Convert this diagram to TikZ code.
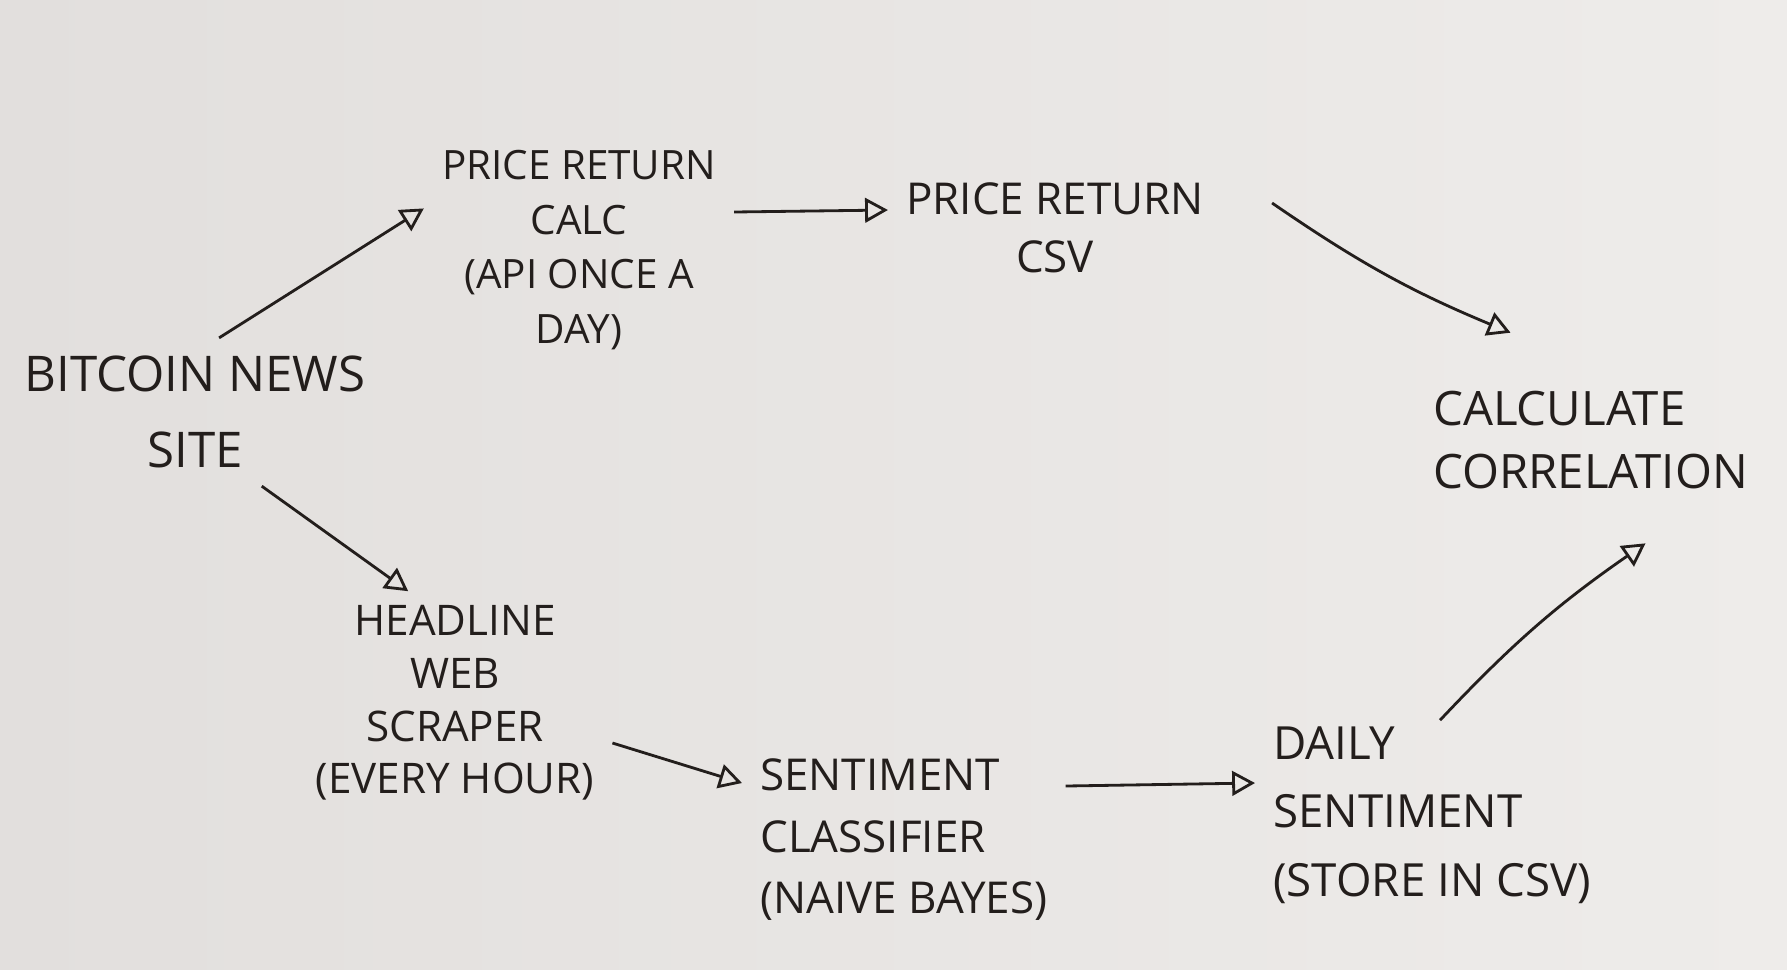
\documentclass[tikz,border=0pt]{standalone}
\usepackage{fontspec}
\setmainfont{Open Sans}
\usepackage{xcolor}
\usetikzlibrary{arrows.meta, positioning, calc}
\definecolor{Paper}{RGB}{226, 223, 221}
\definecolor{PaperLight}{RGB}{238, 236, 234}
\definecolor{Ink}{RGB}{35, 30, 28}

\tikzset{
  sketch/.style={text=Ink, inner sep=5pt, font=\fontsize{11.5}{16}\selectfont},
  flow/.style={draw=Ink, line width=0.8pt, -{Triangle[open, length=6.5pt, width=7pt]}}
}

\begin{document}
\begin{tikzpicture}
            % paper
            \shade[left color=Paper, right color=PaperLight] (0,0) rectangle (17.87,-9.69);
            \useasboundingbox (0,0) rectangle (17.87,-9.69);

            % top row
            \node[sketch, align=center, font=\fontsize{14}{21.5}\selectfont] (site) at (1.95,-4.12) {BITCOIN NEWS\\SITE};
            \node[sketch, align=center, font=\fontsize{11.5}{15.5}\selectfont] (calc) at (5.79,-2.50) {PRICE RETURN\\CALC\\(API ONCE A\\DAY)};
            \node[sketch, align=center, font=\fontsize{12.5}{16.5}\selectfont] (csv) at (10.55,-2.28) {PRICE RETURN\\CSV};
            \node[sketch, align=left, font=\fontsize{13.5}{18}\selectfont, anchor=west] (corr) at (14.15,-4.40) {CALCULATE\\CORRELATION};

            % bottom row
            \node[sketch, align=center, font=\fontsize{12}{15}\selectfont] (scraper) at (4.55,-7.03) {HEADLINE\\WEB\\SCRAPER\\(EVERY HOUR)};
            \node[sketch, align=left, font=\fontsize{12.5}{17.5}\selectfont, anchor=west] (classifier) at (7.42,-8.40) {SENTIMENT\\CLASSIFIER\\(NAIVE BAYES)};
            \node[sketch, align=left, font=\fontsize{13}{19.5}\selectfont, anchor=west] (daily) at (12.55,-8.15) {DAILY\\SENTIMENT\\(STORE IN CSV)};

            % arrows
            \draw[flow] (site.72) -- (calc.165);
            \draw[flow] (calc.east |- 0,-2.12) -- (csv.west |- 0,-2.10);
            \draw[flow] ([shift={(0.5,0.25)}]csv.east) to[bend right=6] ([shift={(-0.8,0.4)}]corr.north);
            \draw[flow] (site.-48) -- ([yshift=-0.04cm]scraper.112);
            \draw[flow] ([shift={(0.0,-0.4)}]scraper.east) -- ([yshift=0.57cm]classifier.west);
            \draw[flow] (classifier.east |- 0,-7.86) -- (daily.west |- 0,-7.83);
            \draw[flow] ([shift={(1.85,-0.12)}]daily.north west) to[bend left=6] ([shift={(0.55,-0.36)}]corr.south);
        \end{tikzpicture}
\end{document}
